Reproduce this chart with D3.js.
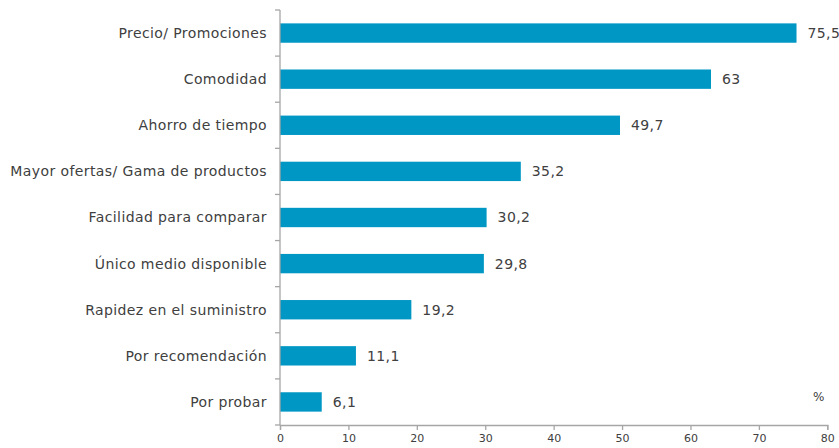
<!DOCTYPE html>
<html>
<head>
<meta charset="utf-8">
<script src="https://cdn.jsdelivr.net/npm/d3@7"></script>
<style>
  body { margin: 0; background: #fff; }
  text { font-family: "DejaVu Sans", Verdana, sans-serif; fill: #404040; }
</style>
</head>
<body>
<svg id="chart"></svg>
<script>
// datos del gráfico
var categories = ["Precio/ Promociones", "Comodidad", "Ahorro de tiempo",
  "Mayor ofertas/ Gama de productos", "Facilidad para comparar",
  "Único medio disponible", "Rapidez en el suministro",
  "Por recomendación", "Por probar"];
var values = [75.5, 63, 49.7, 35.2, 30.2, 29.8, 19.2, 11.1, 6.1];
var xTicks = [0, 10, 20, 30, 40, 50, 60, 70, 80];

var width = 839, height = 448;
var margin = {left: 280, right: 12, top: 10, bottom: 23};

var svg = d3.select("#chart")
  .attr("width", width)
  .attr("height", height);

var x = d3.scaleLinear().domain([0, 80])
  .range([margin.left, 827.3]);
var y = d3.scaleBand().domain(categories)
  .range([margin.top, height - margin.bottom])
  .paddingInner(0.58).paddingOuter(0.29);

var fmt = function(v) { return String(v).replace(".", ","); };

// barras
svg.selectAll(".bar").data(values).enter().append("rect")
  .attr("class", "bar")
  .attr("x", x(0))
  .attr("y", function(d, i) { return y(categories[i]); })
  .attr("width", function(d) { return x(d) - x(0); })
  .attr("height", y.bandwidth())
  .attr("fill", "#0097c4");

// etiquetas de valor
svg.selectAll(".val").data(values).enter().append("text")
  .attr("class", "val")
  .attr("x", function(d) { return x(d) + 11; })
  .attr("y", function(d, i) { return y(categories[i]) + y.bandwidth() / 2; })
  .attr("dy", "0.35em")
  .style("font-size", "14px")
  .style("letter-spacing", "0.4px")
  .text(fmt);

// eje x
var xAxis = svg.append("g")
  .attr("transform", "translate(0," + (height - margin.bottom) + ")")
  .call(d3.axisBottom(x).tickValues(xTicks).tickSize(5).tickPadding(4));
xAxis.selectAll("text").style("font-size", "11px");

// eje y con marcas entre categorías
var y0 = margin.top, y1 = height - margin.bottom;
var gy = svg.append("g");
gy.append("line")
  .attr("x1", x(0)).attr("x2", x(0))
  .attr("y1", y0).attr("y2", y1);
var step = (y1 - y0) / categories.length;
gy.selectAll(".tk").data(d3.range(categories.length + 1)).enter().append("line")
  .attr("class", "tk")
  .attr("x1", x(0) - 5).attr("x2", x(0))
  .attr("y1", function(i) { return y0 + i * step; })
  .attr("y2", function(i) { return y0 + i * step; });
gy.selectAll(".lab").data(categories).enter().append("text")
  .attr("x", x(0) - 13)
  .attr("y", function(d) { return y(d) + y.bandwidth() / 2; })
  .attr("dy", "0.35em")
  .attr("text-anchor", "end")
  .style("font-size", "14px")
  .style("letter-spacing", "0.4px")
  .text(function(d) { return d; });

svg.selectAll(".domain, .tick line, g line")
  .attr("stroke", "#a6a6a6").attr("stroke-width", 1.3);

svg.append("text")
  .attr("x", 813).attr("y", 401)
  .style("font-size", "12px")
  .text("%");
</script>
</body>
</html>
